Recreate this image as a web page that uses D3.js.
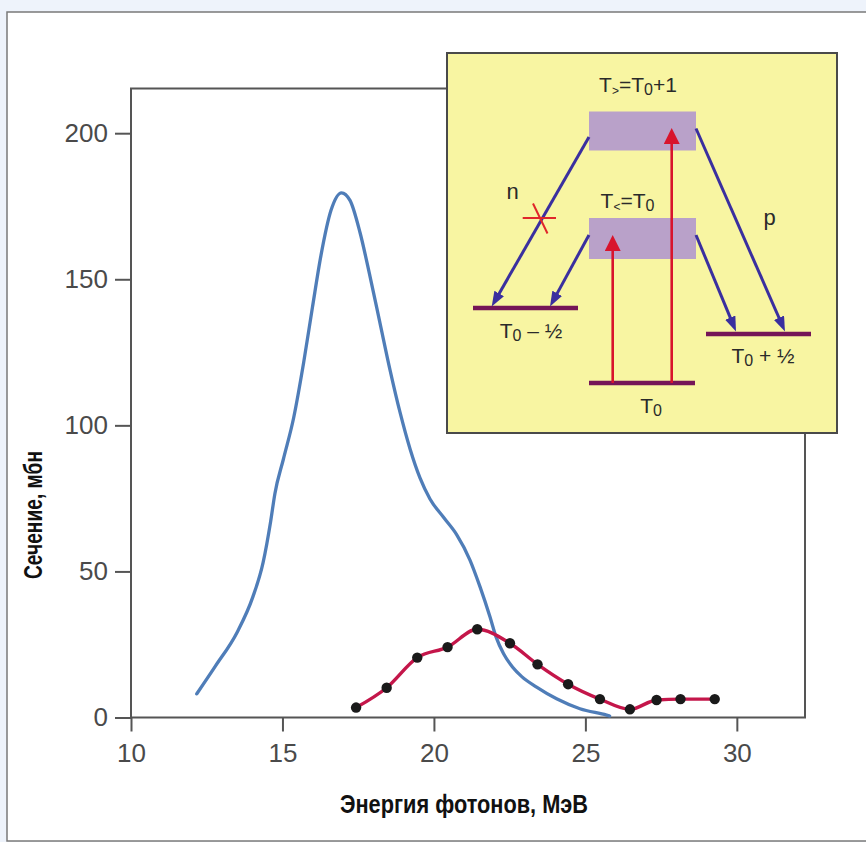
<!DOCTYPE html>
<html><head><meta charset="utf-8">
<script src="https://cdn.jsdelivr.net/npm/d3@7"></script>
<style>
html,body{margin:0;padding:0;background:#eef3fb;}
svg{display:block;}
</style></head><body>
<svg id="chart" width="866" height="842"></svg>
<script>
// ---- data ----
const xTicks = [10, 15, 20, 25, 30];
const yTicks = [0, 50, 100, 150, 200];
const blueX = [12.17, 12.78, 13.51, 14.02, 14.36, 14.61, 14.75, 15.03, 15.37, 15.7, 15.99, 16.27, 16.6, 16.95, 17.23, 17.56, 17.89, 18.22, 18.55, 18.88, 19.21, 19.54, 19.87, 20.31, 20.75, 21.19, 21.52, 21.85, 22.05, 22.3, 22.6, 22.9, 23.39, 24.05, 24.82, 25.7, 25.8];
const blueY = [8.1, 17.5, 29.3, 41.2, 53, 67.1, 76.6, 88.4, 102.6, 121.5, 140.4, 158.1, 173.5, 179.6, 177, 166, 151, 135, 119, 104.5, 92, 82, 74.8, 68.6, 62.6, 53.9, 44.8, 34.5, 27.6, 21.8, 17.2, 14, 10.4, 6.4, 3.0, 0.8, 0.5];
const redX = [17.43, 18.44, 19.45, 20.45, 21.43, 22.51, 23.42, 24.43, 25.48, 26.47, 27.35, 28.14, 29.27];
const redY = [3.4, 10.2, 20.5, 24.1, 30.2, 25.4, 18.2, 11.4, 6.3, 2.8, 6.0, 6.3, 6.3];
const xTitle = "Энергия фотонов, МэВ";
const yTitle = "Сечение, мбн";
const channelLabels = ["n", "p"];

// ---- layout ----
const svg = d3.select("#chart");
const FONT = "'Liberation Sans', Arial, Helvetica, sans-serif";
const NARROW = "'Liberation Sans Narrow', 'Arial Narrow', 'Liberation Sans', Arial, sans-serif";

// outer panel
svg.append("rect").attr("x", 7).attr("y", 12).attr("width", 880).attr("height", 829)
  .attr("fill", "#ffffff").attr("stroke", "#7a7a7a").attr("stroke-width", 1.5);

const x = d3.scaleLinear().domain([10, 32.25]).range([131, 805]);
const y = d3.scaleLinear().domain([0, 215.3]).range([717.5, 88.5]);

// frame
const frameColor = "#555";
svg.append("path")
  .attr("d", `M${x(10)},${y(0)}V${y.range()[1]}H${x.range()[1]}V${y(0)}Z`)
  .attr("fill", "none").attr("stroke", frameColor).attr("stroke-width", 2);

// axes
const gx = svg.append("g").attr("transform", `translate(0,${y(0)})`)
  .call(d3.axisBottom(x).tickValues(xTicks).tickSize(14).tickPadding(12).tickFormat(d3.format("d")));
const gy = svg.append("g").attr("transform", `translate(${x(10)},0)`)
  .call(d3.axisLeft(y).tickValues(yTicks).tickSize(16).tickPadding(7).tickFormat(d3.format("d")));
[gx, gy].forEach(g => {
  g.select(".domain").remove();
  g.selectAll(".tick line").attr("stroke", frameColor).attr("stroke-width", 2);
  g.selectAll(".tick text").attr("fill", "#4a4a4a").attr("font-family", FONT).attr("font-size", 26);
});

// titles
svg.append("text").attr("x", 464).attr("y", 813).attr("text-anchor", "middle")
  .attr("font-family", NARROW).attr("font-weight", "bold").attr("font-size", 25).attr("fill", "#111")
  .attr("textLength", 248).attr("lengthAdjust", "spacingAndGlyphs").text(xTitle);
svg.append("text").attr("transform", "translate(42,515) rotate(-90)").attr("text-anchor", "middle")
  .attr("font-family", NARROW).attr("font-weight", "bold").attr("font-size", 25).attr("fill", "#111")
  .attr("textLength", 128).attr("lengthAdjust", "spacingAndGlyphs").text(yTitle);

// blue curve
const blue = blueX.map((d, i) => [d, blueY[i]]);
svg.append("path").datum(blue)
  .attr("d", d3.line().x(d => x(d[0])).y(d => y(d[1])).curve(d3.curveMonotoneX))
  .attr("fill", "none").attr("stroke", "#4f7db8").attr("stroke-width", 3.3).attr("stroke-linecap", "round");

// red curve with points
const red = redX.map((d, i) => [d, redY[i]]);
svg.append("path").datum(red)
  .attr("d", d3.line().x(d => x(d[0])).y(d => y(d[1])).curve(d3.curveMonotoneX))
  .attr("fill", "none").attr("stroke", "#c4164a").attr("stroke-width", 3.4);
svg.append("g").selectAll("circle").data(red).join("circle")
  .attr("cx", d => x(d[0])).attr("cy", d => y(d[1])).attr("r", 5.2).attr("fill", "#1a1a1a");

// ---- inset diagram ----
const defs = svg.append("defs");
function marker(id, color, len, wid, k) {
  defs.append("marker").attr("id", id).attr("markerUnits", "userSpaceOnUse")
    .attr("markerWidth", len).attr("markerHeight", wid).attr("refX", len - k).attr("refY", wid / 2)
    .attr("orient", "auto")
    .append("path").attr("d", `M0,0L${len},${wid / 2}L0,${wid}Z`).attr("fill", color);
}
const BLUE = "#3a2f9f", RED = "#d8142c", LEVEL = "#751557", BAND = "#b9a1c9";
marker("ab", BLUE, 15, 11, 9);
marker("ar", RED, 16, 16, 10);

const inset = svg.append("g").attr("transform", "translate(447,53)");
inset.append("rect").attr("width", 390).attr("height", 380)
  .attr("fill", "#f8f5a2").attr("stroke", "#4a4a4a").attr("stroke-width", 2);

// bands
[[58.5, 97.5], [165, 206]].forEach(b => {
  inset.append("rect").attr("x", 142).attr("y", b[0]).attr("width", 107).attr("height", b[1] - b[0]).attr("fill", BAND);
});
// levels
[[26, 131, 255], [259, 364, 281], [142, 248, 330]].forEach(l => {
  inset.append("line").attr("x1", l[0]).attr("x2", l[1]).attr("y1", l[2]).attr("y2", l[2])
    .attr("stroke", LEVEL).attr("stroke-width", 4.5);
});
function arrow(x1, y1, x2, y2, color, id, k, w) {
  const dx = x2 - x1, dy = y2 - y1, L = Math.hypot(dx, dy);
  inset.append("line").attr("x1", x1).attr("y1", y1)
    .attr("x2", x2 - dx / L * k).attr("y2", y2 - dy / L * k)
    .attr("stroke", color).attr("stroke-width", w).attr("marker-end", `url(#${id})`);
}
// red excitation arrows
arrow(165.7, 330, 165.7, 182, RED, "ar", 10, 2.6);
arrow(224.7, 330, 224.7, 75, RED, "ar", 10, 2.6);
// blue decay arrows
arrow(142, 84, 44.7, 253.5, BLUE, "ab", 9, 3);
arrow(142, 182, 103, 253.5, BLUE, "ab", 9, 3);
arrow(249, 182, 289, 278.5, BLUE, "ab", 9, 3);
arrow(249, 75.5, 338, 278.5, BLUE, "ab", 9, 3);
// forbidden cross
inset.append("line").attr("x1", 75.7).attr("x2", 109).attr("y1", 165).attr("y2", 165).attr("stroke", "#e0262a").attr("stroke-width", 2);
inset.append("line").attr("x1", 86).attr("x2", 100.5).attr("y1", 150.5).attr("y2", 180.5).attr("stroke", "#e0262a").attr("stroke-width", 2);

// labels
function label(cx, by, parts, size) {
  const t = inset.append("text").attr("x", cx).attr("y", by).attr("text-anchor", "middle")
    .attr("font-family", FONT).attr("font-size", size || 21).attr("fill", "#2a2a2a");
  parts.forEach(p => {
    const s = t.append("tspan").text(p.t);
    if (p.sub) s.attr("font-size", p.sub).attr("dy", p.dy);
    else if (p.dy) s.attr("dy", p.dy);
  });
  return t;
}
// T>=T0+1
label(191, 39, [{t: "T"}, {t: ">", sub: 12, dy: 3}, {t: "=", dy: -3}, {t: "T"}, {t: "0", sub: 16, dy: 3}, {t: "+1", dy: -3}]);
// T<=T0
label(180.5, 155, [{t: "T"}, {t: "<", sub: 12, dy: 3}, {t: "=", dy: -3}, {t: "T"}, {t: "0", sub: 16, dy: 3}]);
// n, p
label(65.5, 146, [{t: channelLabels[0]}], 22);
label(322.5, 172, [{t: channelLabels[1]}], 22);
// levels
label(84, 285, [{t: "T"}, {t: "0", sub: 16, dy: 3}, {t: " – ½", dy: -3}]);
label(316, 310, [{t: "T"}, {t: "0", sub: 16, dy: 3}, {t: " + ½", dy: -3}]);
label(204, 360, [{t: "T"}, {t: "0", sub: 16, dy: 3}]);
</script>
</body></html>
